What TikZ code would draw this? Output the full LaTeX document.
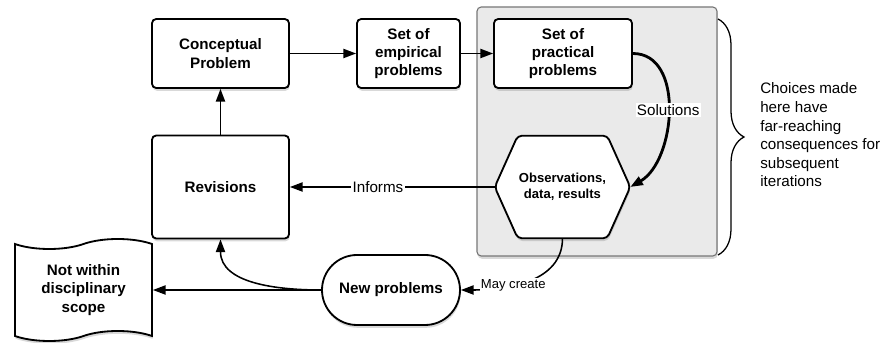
\documentclass[tikz,border=0pt]{standalone}
\usepackage{fontspec}
\setmainfont{Liberation Sans}
\usetikzlibrary{positioning, shapes.symbols, arrows.meta, calc, shadows, decorations.pathreplacing}
\definecolor{panelgray}{HTML}{EAEAEA}
\definecolor{panelline}{HTML}{777777}

\begin{document}
\begin{tikzpicture}[font=\fontsize{10.8}{13}\selectfont,
    box/.style={draw=black, fill=white, line width=1.3pt, rounded corners=3pt, align=center,
                font=\fontsize{10.8}{13}\selectfont\bfseries, inner sep=2pt,
                drop shadow={opacity=0.3, shadow xshift=0.5pt, shadow yshift=-2pt}},
    arr/.style={line width=1.1pt, -{Triangle[length=9pt, width=6.5pt]}},
    lbl/.style={fill=white, inner sep=1pt}]
  \useasboundingbox (0,0) rectangle (22.1,8.575);
  % grey panel round the practical part
  \draw[panelline, fill=panelgray, line width=0.8pt, rounded corners=3pt,
        drop shadow={opacity=0.3, shadow xshift=0.5pt, shadow yshift=-2pt}]
        (11.925,2.175) rectangle (17.925,8.4);
  \node[box, minimum width=3.425cm, minimum height=1.725cm] (cp)   at (5.5125,7.2375)  {Conceptual\\Problem};
  \node[box, minimum width=2.575cm, minimum height=1.725cm] (emp)  at (10.2125,7.2375) {Set of\\empirical\\problems};
  \node[box, minimum width=3.45cm,  minimum height=1.725cm] (prac) at (14.075,7.2375)  {Set of\\practical\\problems};
  \node[box, minimum width=3.425cm, minimum height=2.575cm] (rev)  at (5.5125,3.9)     {Revisions};
  % hexagon: frame node, outline drawn round it
  \node[minimum width=3.375cm, minimum height=2.55cm, inner sep=0pt] (obs) at (14.0625,3.9) {};
  \draw[fill=white, line width=1.3pt, rounded corners=3pt,
        drop shadow={opacity=0.3, shadow xshift=0.5pt, shadow yshift=-2pt}]
        (obs.west) -- ($(obs.north west)+(0.575,0)$) -- ($(obs.north east)+(-0.575,0)$)
        -- (obs.east) -- ($(obs.south east)+(-0.575,0)$) -- ($(obs.south west)+(0.575,0)$) -- cycle;
  \node[align=center, font=\fontsize{9.3}{11.4}\selectfont\bfseries] (obstext) at (obs) {Observations,\\data, results};
  \node[box, rounded corners=0.875cm, minimum width=3.45cm, minimum height=1.75cm] (newp) at (9.775,1.325) {New problems};
  \node[box, tape, rounded corners=0pt, tape bend top=in and out, tape bend bottom=in and out,
        tape bend height=0.25cm, minimum width=3.425cm, minimum height=2.55cm] (nws) at (2.0875,1.325)
        {Not within\\disciplinary\\scope};
  % brace and note
  \coordinate (btop) at (17.95,8.1);
  \coordinate (bbot) at (17.95,2.2);
  \draw[line width=0.9pt, decorate, decoration={brace, amplitude=0.65cm}] (btop) -- (bbot);
  \node[anchor=west, align=left, inner sep=0pt, font=\fontsize{10.8}{13.25}\selectfont] (note) at (19.0,5.2)
        {Choices made\\here have\\far-reaching\\consequences for\\subsequent\\iterations};
  % connectors
  \draw[arr] (cp) -- (emp);
  \draw[arr] (emp) -- (prac);
  \draw[arr, line width=2pt] (prac.east) to[out=0, in=30] node[lbl, pos=0.5] {Solutions} (obs.east);
  \draw[arr] (obs.west) -- node[lbl, pos=0.57] {Informs} (rev.east);
  \draw[arr] (rev) -- (cp);
  \draw[arr] (obs.south) to[out=-90, in=0] node[lbl, pos=0.62, font=\fontsize{9.3}{11}\selectfont] {May create} (newp.east);
  \draw[arr] (newp.west) -- (nws.east);
  \draw[arr] (newp.west) to[out=180, in=-90] (rev.south);
\end{tikzpicture}
\end{document}
